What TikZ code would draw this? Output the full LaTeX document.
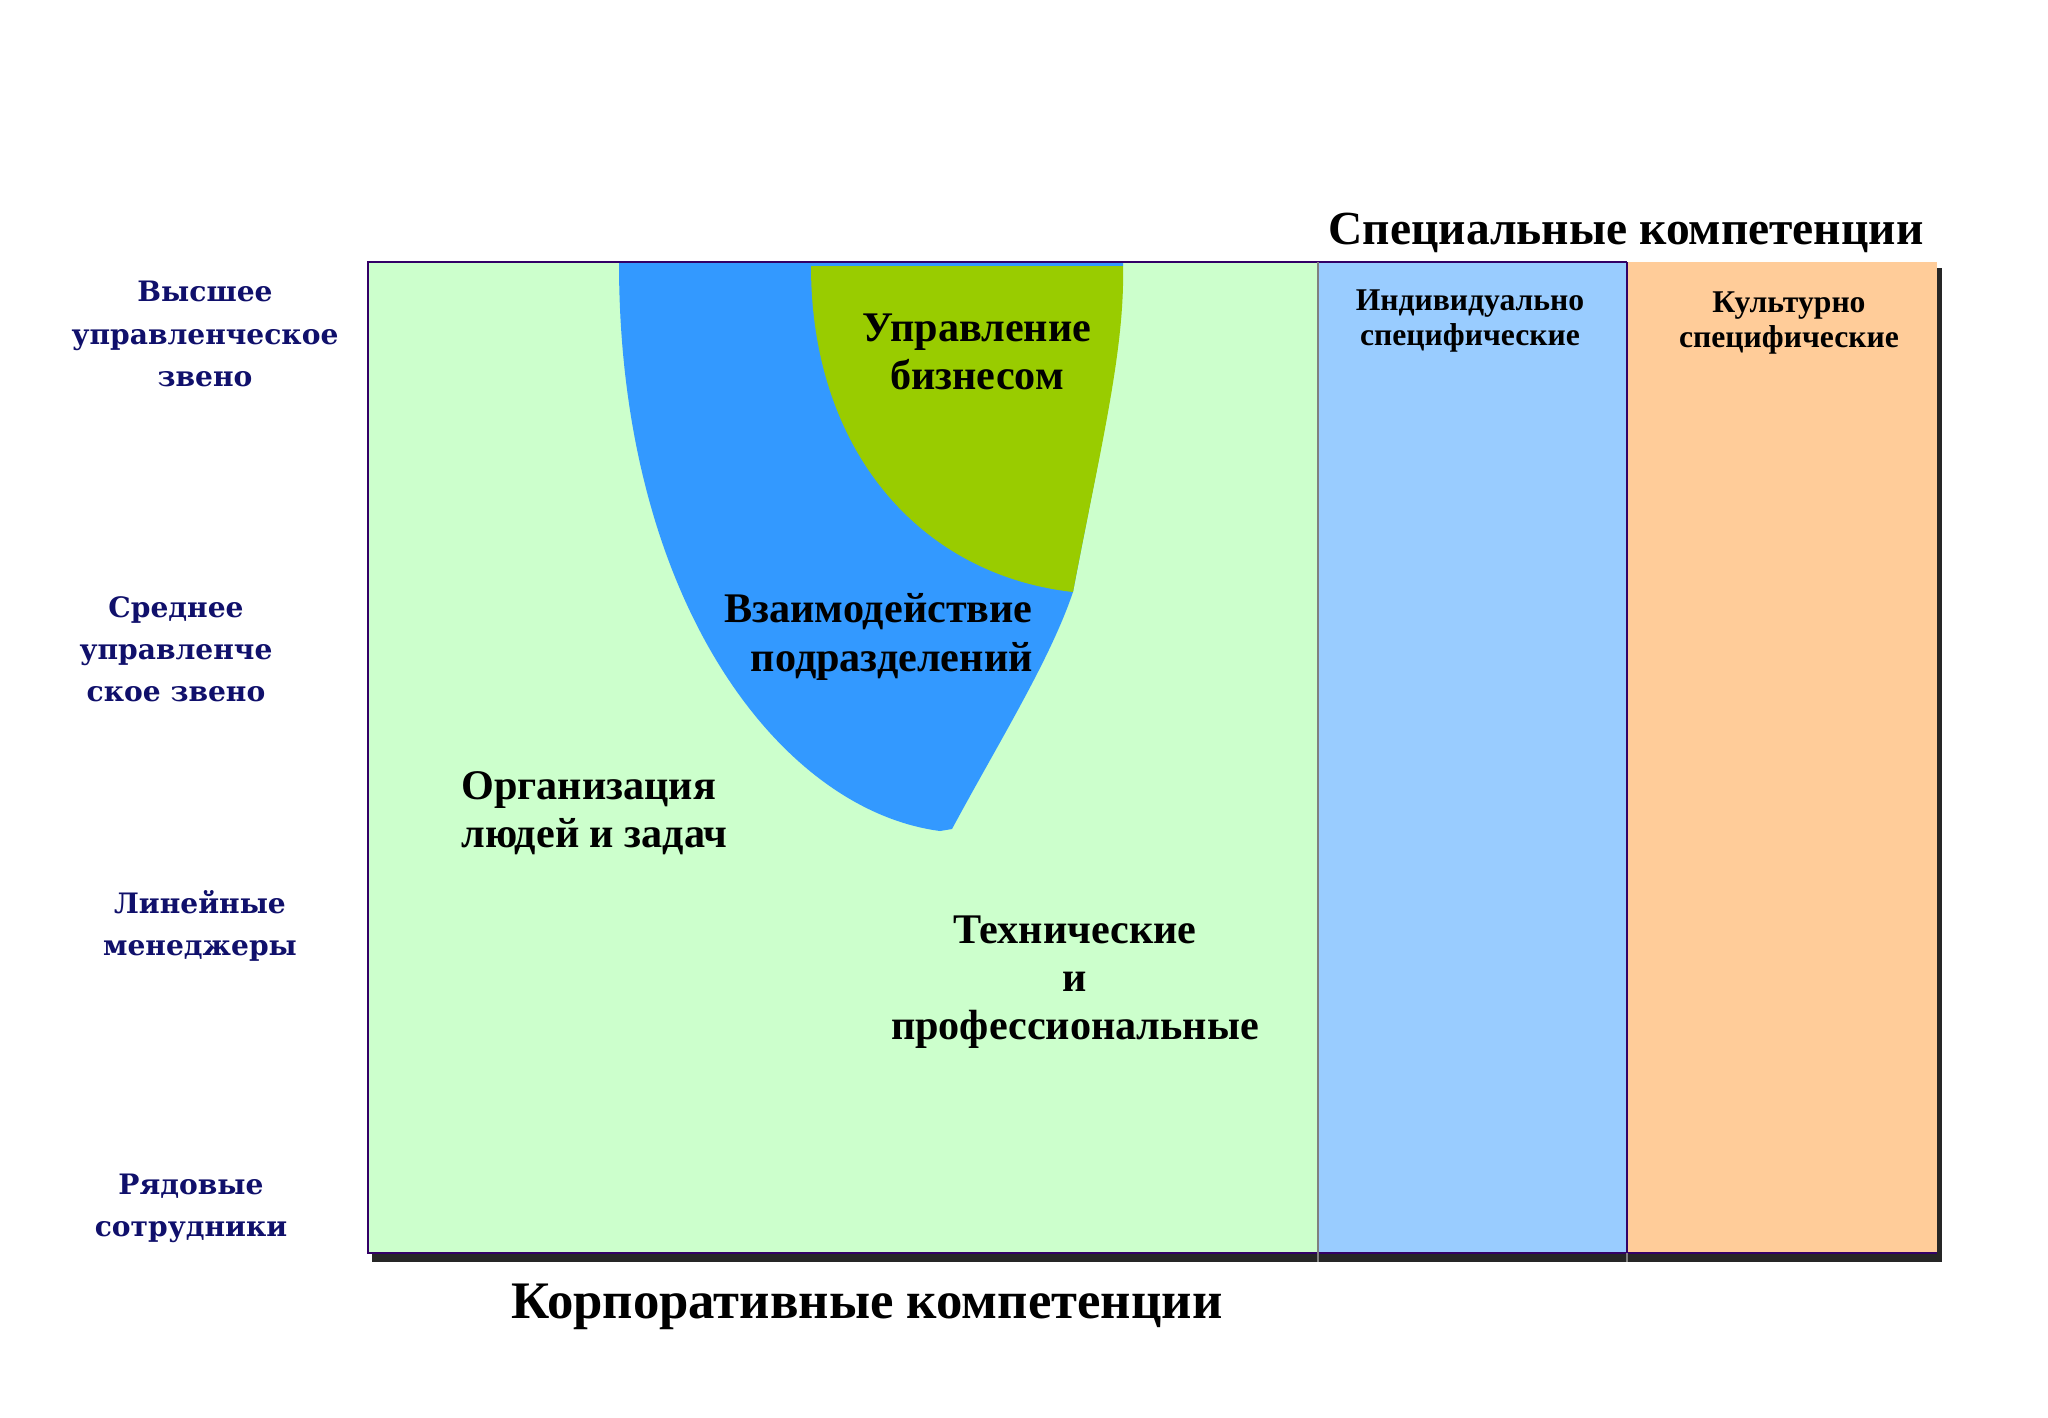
\documentclass[tikz,border=0pt]{standalone}
\usepackage{fontspec}
\setmainfont{Liberation Serif}
\newfontfamily\levelfont{DejaVu Serif}
\definecolor{corpgreen}{HTML}{CCFFCC}
\definecolor{indivblue}{HTML}{99CCFF}
\definecolor{cultorange}{HTML}{FFCC99}
\definecolor{interblue}{HTML}{3399FF}
\definecolor{bizgreen}{HTML}{99CC00}
\definecolor{framepurple}{HTML}{330066}
\definecolor{levelnavy}{HTML}{10106B}
\begin{document}
\begin{tikzpicture}[x=0.01cm, y=-0.01cm,
  level/.style={align=center, text=levelnavy, font=\levelfont\bfseries\fontsize{8}{12}\selectfont},
  area/.style={align=center, font=\bfseries\fontsize{12}{13.7}\selectfont},
  special/.style={align=center, font=\bfseries\fontsize{9}{10}\selectfont},
  heading/.style={font=\bfseries\fontsize{13.5}{16}\selectfont}]
\useasboundingbox (0,0) rectangle (2048,1418);

% Shadow of the frame
\fill[black!85] (372,268) rectangle (1942,1262);

% Three columns
\fill[corpgreen] (368,262) rectangle (1318,1253);
\fill[indivblue] (1318,262) rectangle (1627,1253);
\fill[cultorange] (1627,262) rectangle (1937,1253);

% Nested competence areas
\fill[interblue] (619,263) .. controls (619,600) and (780,810) .. (940,831) -- (952,829)
  .. controls (1000,740) and (1050,660) .. (1073,592)
  .. controls (1100,450) and (1123,350) .. (1123,263) -- cycle;
\fill[bizgreen] (811,266) .. controls (811,450) and (920,575) .. (1073,592)
  .. controls (1100,450) and (1125,350) .. (1123,266) -- cycle;

% Frame lines
\draw[framepurple, line width=0.6pt] (1627,262) -- (368,262) -- (368,1253) -- (1937,1253);
\draw[framepurple, line width=0.6pt] (1627,262) -- (1627,1253);
\draw[gray, line width=0.6pt] (1318,262) -- (1318,1262);
\draw[gray, line width=0.6pt] (1627,1253) -- (1627,1262);

% Management levels
\node[level] (top) at (205,334) {Высшее\\управленческое\\звено};
\node[level] (middle) at (176,649) {Среднее\\управленче\\ское звено};
\node[level] (line) at (200,926) {Линейные\\менеджеры};
\node[level] (staff) at (191,1208) {Рядовые\\сотрудники};

% Corporate competences
\node[area] (biz) at (977,352) {Управление\\бизнесом};
\node[area, align=right, anchor=east] (inter) at (1045,637) {Взаимодействие\\подразделений};
\node[area, align=left, anchor=west] (org) at (449,813) {Организация\\людей и задач};
\node[area] (tech) at (1075,982) {Технические\\и\\профессиональные};

% Special competences
\node[special] (indiv) at (1470,321) {Индивидуально\\специфические};
\node[special] (cult) at (1789,323) {Культурно\\специфические};

\node[heading] (spec) at (1626,233) {Специальные компетенции};
\node[heading, font=\bfseries\fontsize{15}{18}\selectfont] (corp) at (867,1307) {Корпоративные компетенции};
\end{tikzpicture}
\end{document}
